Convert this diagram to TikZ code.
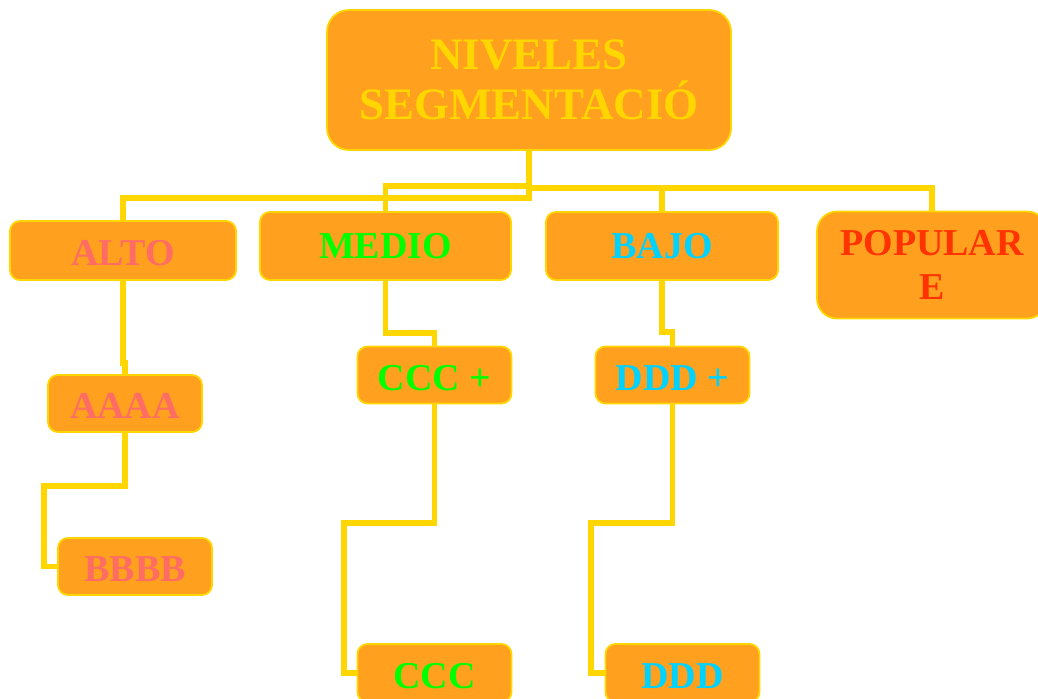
\documentclass[tikz,border=0pt]{standalone}
\usepackage{fontspec}
\setmainfont{Liberation Serif}
\usetikzlibrary{positioning}
\newlength{\px}\setlength{\px}{0.025cm}
\definecolor{oro}{RGB}{255,214,0}
\definecolor{naranja}{RGB}{255,160,30}
\definecolor{salmon}{RGB}{255,108,100}
\definecolor{verde}{RGB}{0,255,0}
\definecolor{celeste}{RGB}{0,210,255}
\definecolor{rojo}{RGB}{255,51,0}
\tikzset{
  caja/.style={draw=oro, line width=1.8\px, fill=naranja, rounded corners=10\px,
    inner sep=0pt, font=\bfseries\fontsize{27}{31}\selectfont},
  chica/.style={caja, minimum width=154\px, minimum height=57\px, text height=22pt, text depth=0pt},
  enlace/.style={draw=oro, line width=5.5\px}
}

\begin{document}
\begin{tikzpicture}[x=0.025cm, y=-0.025cm]
    \useasboundingbox (0,0) rectangle (1038,698);

    % Caja principal
    \node[caja, minimum width=404\px, minimum height=140\px, rounded corners=22\px,
      text=oro, align=center, font=\bfseries\fontsize{32}{35.5}\selectfont]
      (niveles) at (529,80) {NIVELES\\SEGMENTACIÓ};

    % Niveles
    \node[caja, minimum width=226\px, minimum height=59\px, text height=22pt, text depth=0pt, text=salmon] (alto) at (123,250.5) {ALTO};
    \node[caja, minimum width=251\px, minimum height=68\px, text=verde] (medio) at (385.5,246) {MEDIO};
    \node[caja, minimum width=232\px, minimum height=68\px, text=celeste] (bajo) at (662,246) {BAJO};
    \node[caja, minimum width=230\px, minimum height=107\px, rounded corners=20\px,
      text=rojo, align=center] (popular) at (932,265) {POPULAR\\E};

    % Subniveles
    \node[chica, text=salmon] (aaaa) at (125,403.5) {AAAA};
    \node[chica, text=salmon] (bbbb) at (135,566.5) {BBBB};
    \node[chica, text=verde] (cccmas) at (434.5,375) {CCC +};
    \node[chica, text=celeste] (dddmas) at (672.5,375) {DDD +};
    \node[chica, minimum height=58\px, text=verde] (ccc) at (434.5,673) {CCC};
    \node[chica, minimum height=58\px, text=celeste] (ddd) at (682.5,673) {DDD};

    \coordinate (codoB) at (44,486);
    \coordinate (codoC) at (344,523);
    \coordinate (codoD) at (591,523);

    % Conectores
    \draw[enlace] (niveles.south) -- ++(0,47) -| (alto.north);
    \draw[enlace] (niveles.south) -- ++(0,35) -| (medio.north);
    \draw[enlace] (niveles.south) -- ++(0,37) -| (bajo.north);
    \draw[enlace] (niveles.south) -- ++(0,37) -| (popular.north);
    \draw[enlace] (alto.south) -- ++(0,82) -| (aaaa.north);
    \draw[enlace] (medio.south) -- ++(0,52) -| (cccmas.north);
    \draw[enlace] (bajo.south) -- ++(0,51) -| (dddmas.north);
    \draw[enlace] (aaaa.south) |- (codoB) |- (bbbb.west);
    \draw[enlace] (cccmas.south) |- (codoC) |- (ccc.west);
    \draw[enlace] (dddmas.south) |- (codoD) |- (ddd.west);
\end{tikzpicture}
\end{document}
